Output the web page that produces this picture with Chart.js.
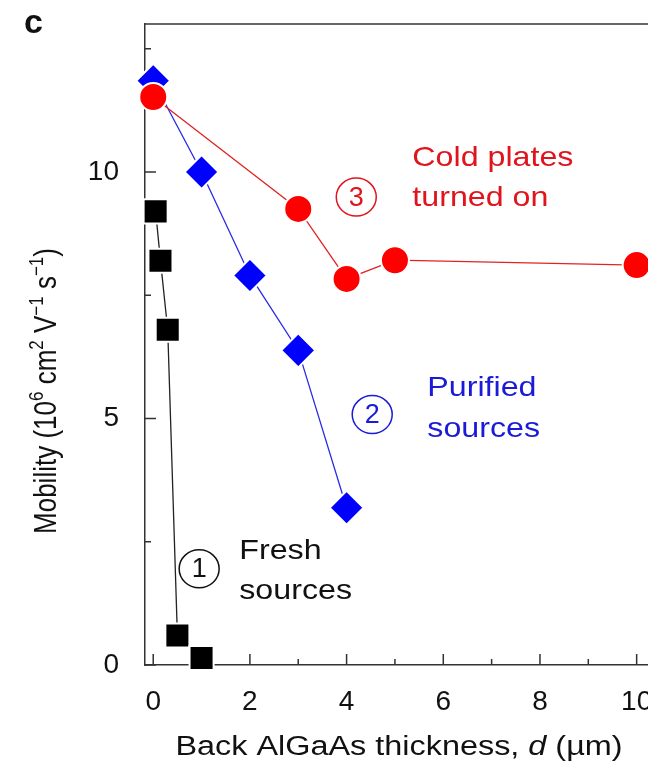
<!DOCTYPE html>
<html>
<head>
<meta charset="utf-8">
<script src="https://cdn.jsdelivr.net/npm/chart.js@4.4.1/dist/chart.umd.min.js"></script>
<style>
  html, body { margin: 0; padding: 0; background: #fff; width: 648px; height: 763px; overflow: hidden; }
  #wrap { position: absolute; left: 0; top: 0; }
</style>
</head>
<body>
<div id="wrap"><canvas id="mobility" width="720" height="763"></canvas></div>
<script>
// data
const freshD = [0.05, 0.15, 0.3, 0.5, 1];
const freshMob = [9.2, 8.2, 6.8, 0.6, 0.14];
const purifiedD = [0, 1, 2, 3, 4];
const purifiedMob = [11.85, 10.0, 7.9, 6.38, 3.19];
const coldD = [0, 3, 4, 5, 10];
const coldMob = [11.52, 9.25, 7.83, 8.21, 8.11];

const xTicks = [0, 2, 4, 6, 8, 10];
const xMinor = [1, 3, 5, 7, 9];
const yTicks = [0, 5, 10];
const yMinor = [2.5, 7.5, 12.5];

const FONT = '"Liberation Sans", Arial, Helvetica, sans-serif';
const RED = '#ff0000';
const BLUE = '#0000ff';

function pts(xs, ys) {
    return xs.map((x, i) => ({ x: x, y: ys[i] }));
}

// labels placed next to the curves (data coordinates)
const notes = [
    { num: '1', cx: 0.95, cy: 1.95, tx: 1.78, lines: ['Fresh', 'sources'], ty: [2.15, 1.34], color: '#111' },
    { num: '2', cx: 4.53, cy: 5.08, tx: 5.67, lines: ['Purified', 'sources'], ty: [5.45, 4.63], color: '#1a1ad8' },
    { num: '3', cx: 4.2, cy: 9.49, tx: 5.36, lines: ['Cold plates', 'turned on'], ty: [10.12, 9.31], color: '#e0141c' }
];

function richWidth(ctx, parts) {
    let w = 0;
    parts.forEach(p => {
        ctx.font = (p.italic ? 'italic ' : '') + p.size + 'px ' + FONT;
        w += ctx.measureText(p.t).width;
    });
    return w;
}

function drawRich(ctx, parts, x, y) {
    parts.forEach(p => {
        ctx.font = (p.italic ? 'italic ' : '') + p.size + 'px ' + FONT;
        ctx.fillText(p.t, x, y - (p.dy || 0));
        x += ctx.measureText(p.t).width;
    });
}

// the original figure is a bit stretched sideways, so text is too
function wideText(ctx, s, x, y, sx) {
    ctx.save();
    ctx.translate(x, y);
    ctx.scale(sx, 1);
    ctx.fillText(s, 0, 0);
    ctx.restore();
}

const decorPlugin = {
    id: 'decor',
    beforeDatasetsDraw(chart) {
        const ctx = chart.ctx;
        const xs = chart.scales.x, ys = chart.scales.y;
        const a = chart.chartArea;
        ctx.save();
        ctx.strokeStyle = '#333';
        ctx.lineWidth = 1.5;
        ctx.beginPath();
        ctx.moveTo(a.left, a.top);
        ctx.lineTo(a.right, a.top);
        ctx.stroke();
        ctx.beginPath();
        xTicks.forEach(v => { const p = xs.getPixelForValue(v); ctx.moveTo(p, a.bottom); ctx.lineTo(p, a.bottom - 11); });
        xMinor.forEach(v => { const p = xs.getPixelForValue(v); ctx.moveTo(p, a.bottom); ctx.lineTo(p, a.bottom - 6); });
        yTicks.forEach(v => { const p = ys.getPixelForValue(v); ctx.moveTo(a.left, p); ctx.lineTo(a.left + 11, p); });
        yMinor.forEach(v => { const p = ys.getPixelForValue(v); ctx.moveTo(a.left, p); ctx.lineTo(a.left + 6, p); });
        ctx.stroke();
        ctx.restore();
    },
    afterDraw(chart) {
        const ctx = chart.ctx;
        const xs = chart.scales.x, ys = chart.scales.y;
        ctx.save();
        ctx.textBaseline = 'alphabetic';
        ctx.fillStyle = '#111';

        // panel letter
        ctx.font = 'bold 34px ' + FONT;
        ctx.fillText('c', 24, 33);

        // x title
        const xt = [
            { t: 'Back AlGaAs thickness, ', size: 27 },
            { t: 'd', size: 27, italic: true },
            { t: ' (\u00b5m)', size: 27 }
        ];
        const sx = 1.2;
        ctx.save();
        ctx.translate(399 - richWidth(ctx, xt) * sx / 2, 755);
        ctx.scale(sx, 1);
        drawRich(ctx, xt, 0, 0);
        ctx.restore();

        // y title, rotated
        const yt = [
            { t: 'Mobility (10', size: 26 },
            { t: '6', size: 17, dy: 11 },
            { t: ' cm', size: 26 },
            { t: '2', size: 17, dy: 11 },
            { t: ' V', size: 26 },
            { t: '\u22121', size: 17, dy: 11 },
            { t: ' s', size: 26 },
            { t: '\u22121', size: 17, dy: 11 },
            { t: ')', size: 26 }
        ];
        ctx.save();
        ctx.translate(56, 391);
        ctx.rotate(-Math.PI / 2);
        ctx.scale(1, 1.18);
        drawRich(ctx, yt, -richWidth(ctx, yt) / 2, 0);
        ctx.restore();

        // circled numbers and text notes
        notes.forEach(n => {
            const cx = xs.getPixelForValue(n.cx), cy = ys.getPixelForValue(n.cy);
            ctx.strokeStyle = n.color;
            ctx.fillStyle = n.color;
            ctx.lineWidth = 1.5;
            ctx.beginPath();
            ctx.ellipse(cx, cy, 20, 19, 0, 0, Math.PI * 2);
            ctx.stroke();
            ctx.font = '27px ' + FONT;
            ctx.textAlign = 'center';
            ctx.textBaseline = 'middle';
            ctx.fillText(n.num, cx, cy + 1);
            ctx.textAlign = 'left';
            ctx.textBaseline = 'alphabetic';
            ctx.font = '28px ' + FONT;
            n.lines.forEach((s, i) => {
                wideText(ctx, s, xs.getPixelForValue(n.tx), ys.getPixelForValue(n.ty[i]), 1.15);
            });
        });
        ctx.restore();
    }
};

new Chart(document.getElementById('mobility'), {
    type: 'line',
    data: {
        datasets: [
            {
                label: 'Cold plates turned on',
                data: pts(coldD, coldMob),
                borderColor: '#e02424',
                borderWidth: 1.3,
                pointStyle: 'circle',
                pointRadius: 14,
                pointBackgroundColor: RED,
                pointBorderColor: '#fff',
                pointBorderWidth: 2,
                clip: false
            },
            {
                label: 'Purified sources',
                data: pts(purifiedD, purifiedMob),
                borderColor: '#2a2ae6',
                borderWidth: 1.3,
                pointStyle: 'rectRot',
                pointRadius: 17,
                pointBackgroundColor: BLUE,
                pointBorderColor: '#fff',
                pointBorderWidth: 2,
                clip: false
            },
            {
                label: 'Fresh sources',
                data: pts(freshD, freshMob),
                borderColor: '#222',
                borderWidth: 1.3,
                pointStyle: 'rect',
                pointRadius: 17,
                pointBackgroundColor: '#000',
                pointBorderColor: '#fff',
                pointBorderWidth: 2,
                clip: false
            }
        ]
    },
    options: {
        responsive: false,
        devicePixelRatio: 1,
        animation: false,
        events: [],
        layout: { padding: { top: 24, right: 35, left: 0, bottom: 0 } },
        plugins: { legend: { display: false }, tooltip: { enabled: false } },
        scales: {
            x: {
                type: 'linear',
                min: -0.17,
                max: 11,
                grid: { display: false },
                border: { display: true, color: '#333', width: 1.5 },
                afterBuildTicks: s => { s.ticks = xTicks.map(v => ({ value: v })); },
                afterFit: s => { s.height = 98; s.paddingLeft = 0; s.paddingRight = 0; },
                ticks: {
                    padding: 12,
                    color: '#111',
                    maxRotation: 0,
                    font: { family: FONT, size: 28 }
                }
            },
            y: {
                type: 'linear',
                min: 0,
                max: 13,
                grid: { display: false },
                border: { display: true, color: '#333', width: 1.5 },
                afterBuildTicks: s => { s.ticks = yTicks.map(v => ({ value: v })); },
                afterFit: s => { s.width = 145; s.paddingTop = 0; s.paddingBottom = 0; },
                ticks: {
                    padding: 18,
                    color: '#111',
                    font: { family: FONT, size: 28 }
                }
            }
        }
    },
    plugins: [decorPlugin]
});
</script>
</body>
</html>
